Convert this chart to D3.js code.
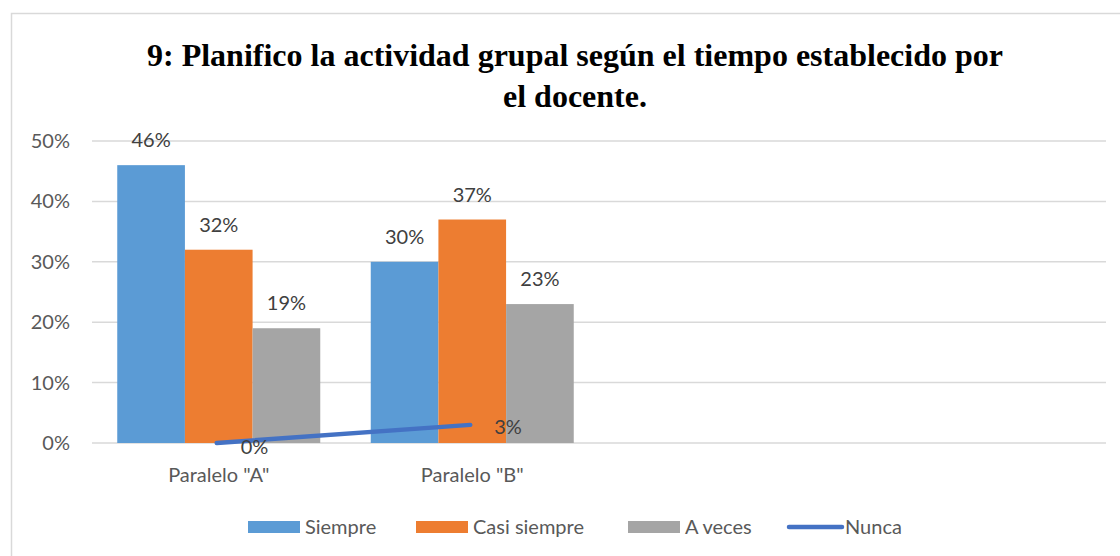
<!DOCTYPE html>
<html>
<head>
<meta charset="utf-8">
<script src="https://cdn.jsdelivr.net/npm/d3@7"></script>
<style>
  body { margin: 0; background: #fff; }
  text { font-family: Lato, "Open Sans", sans-serif; }
</style>
</head>
<body>
<svg id="chart"></svg>
<script>
// chart data
const categories = ['Paralelo "A"', 'Paralelo "B"', "", " "];
const barSeries = ["Siempre", "Casi siempre", "A veces"];
const siempre = [0.46, 0.30];
const casiSiempre = [0.32, 0.37];
const aVeces = [0.19, 0.23];
const nunca = [0.00, 0.03];
const yTicks = [0, 0.1, 0.2, 0.3, 0.4, 0.5];
const titleLines = ["9: Planifico la actividad grupal según el tiempo establecido por", "el docente."];

const colors = {
  "Siempre": "#5b9bd5",
  "Casi siempre": "#ed7d31",
  "A veces": "#a5a5a5",
  "Nunca": "#4472c4"
};

const width = 1120, height = 556;
const fs = "20px";
const svg = d3.select("#chart").attr("width", width).attr("height", height);

// outer chart border
svg.append("rect")
  .attr("x", 11.5).attr("y", 13.5)
  .attr("width", width).attr("height", height)
  .attr("fill", "none").attr("stroke", "#d9d9d9").attr("stroke-width", 1.5);

// title
svg.append("g").selectAll("text")
  .data(titleLines)
  .join("text")
  .attr("x", 575).attr("y", (d, i) => 66 + i * 41)
  .attr("text-anchor", "middle")
  .style("font-family", "'Liberation Serif', 'Times New Roman', serif")
  .style("font-weight", "bold")
  .style("font-size", "32px")
  .attr("fill", "#000")
  .text(d => d);

const plot = { left: 92, right: 1106, top: 141, bottom: 443 };

const x0 = d3.scaleBand().domain(categories).range([plot.left, plot.right]);
const xs = d3.scaleBand().domain(barSeries).range([0, 203]);
const y = d3.scaleLinear().domain([0, 0.5]).range([plot.bottom, plot.top]);

// gridlines
svg.append("g").selectAll("line")
  .data(yTicks)
  .join("line")
  .attr("x1", plot.left).attr("x2", plot.right)
  .attr("y1", d => y(d)).attr("y2", d => y(d))
  .attr("stroke", "#d9d9d9").attr("stroke-width", 1.5);

// y labels
svg.append("g").selectAll("text")
  .data(yTicks)
  .join("text")
  .attr("x", 70).attr("y", d => y(d))
  .attr("dy", "0.35em")
  .attr("text-anchor", "end")
  .style("font-size", fs)
  .attr("fill", "#595959")
  .text(d => d3.format(".0%")(d));

// bars
const rows = categories.slice(0, 2).map((c, i) => ({
  cat: c,
  values: [
    { key: "Siempre", v: siempre[i] },
    { key: "Casi siempre", v: casiSiempre[i] },
    { key: "A veces", v: aVeces[i] }
  ]
}));

const groupOffset = (x0.bandwidth() - xs.range()[1]) / 2;

const groups = svg.append("g").selectAll("g")
  .data(rows)
  .join("g")
  .attr("transform", d => `translate(${x0(d.cat) + groupOffset},0)`);

groups.selectAll("rect")
  .data(d => d.values)
  .join("rect")
  .attr("x", d => xs(d.key))
  .attr("width", xs.bandwidth())
  .attr("y", d => y(d.v))
  .attr("height", d => y(0) - y(d.v))
  .attr("fill", d => colors[d.key]);

groups.selectAll("text")
  .data(d => d.values)
  .join("text")
  .attr("x", d => xs(d.key) + xs.bandwidth() / 2)
  .attr("y", d => y(d.v) - 25)
  .attr("dy", "0.35em")
  .attr("text-anchor", "middle")
  .style("font-size", fs)
  .attr("fill", "#404040")
  .text(d => d3.format(".0%")(d.v));

// x labels
svg.append("g").selectAll("text")
  .data(categories.slice(0, 2))
  .join("text")
  .attr("x", d => x0(d) + x0.bandwidth() / 2)
  .attr("y", 475)
  .attr("dy", "0.35em")
  .attr("text-anchor", "middle")
  .style("font-size", fs)
  .attr("fill", "#595959")
  .text(d => d);

// Nunca line
const linePts = nunca.map((v, i) => ({ cat: categories[i], v }));
svg.append("path")
  .datum(linePts)
  .attr("fill", "none")
  .attr("stroke", colors["Nunca"])
  .attr("stroke-width", 4.5)
  .attr("stroke-linecap", "round")
  .attr("d", d3.line().x(d => x0(d.cat) + x0.bandwidth() / 2 - 2).y(d => y(d.v)));

svg.append("g").selectAll("text")
  .data(linePts)
  .join("text")
  .attr("x", d => x0(d.cat) + x0.bandwidth() / 2 + 22)
  .attr("y", (d, i) => y(d.v) + (i === 0 ? 4 : 2))
  .attr("dy", "0.35em")
  .style("font-size", fs)
  .attr("fill", "#404040")
  .text(d => d3.format(".0%")(d.v));

// legend
const legendItems = [
  { key: "Siempre", x: 248 },
  { key: "Casi siempre", x: 416 },
  { key: "A veces", x: 628 },
  { key: "Nunca", x: 788 }
];
const lg = svg.append("g").selectAll("g")
  .data(legendItems)
  .join("g")
  .attr("transform", d => `translate(${d.x},527)`);

lg.each(function(d) {
  const g = d3.select(this);
  if (d.key === "Nunca") {
    g.append("line").attr("x1", 1).attr("x2", 54).attr("y1", 0).attr("y2", 0)
      .attr("stroke", colors[d.key]).attr("stroke-width", 4.5).attr("stroke-linecap", "round");
  } else {
    g.append("rect").attr("x", 0).attr("y", -6).attr("width", 52).attr("height", 12)
      .attr("fill", colors[d.key]);
  }
  g.append("text").attr("x", 57).attr("y", 0).attr("dy", "0.35em")
    .style("font-size", fs).attr("fill", "#595959").text(d.key);
});
</script>
</body>
</html>
